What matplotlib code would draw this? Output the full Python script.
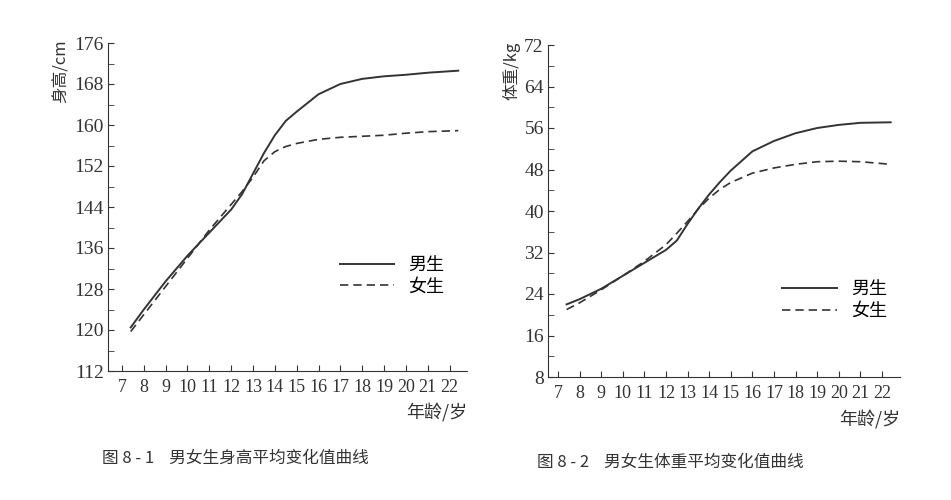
import matplotlib
matplotlib.use("Agg")
import matplotlib.pyplot as plt
from matplotlib.ticker import MultipleLocator

plt.rcParams['font.family'] = ['Liberation Serif', 'Noto Sans CJK SC']

ages = [7.4, 8, 9, 10, 11, 12, 12.5, 13, 13.5, 14, 14.5, 15, 16, 17, 18, 19, 20, 21, 22.4]
h_male = [120.5, 124, 129.5, 134.5, 139, 143.5, 146.5, 150.5, 154.5, 158, 160.8, 162.6, 166, 168, 169, 169.5, 169.8, 170.2, 170.6]
h_female = [119.7, 123, 128.5, 134, 139.5, 144.5, 147, 149.8, 153, 154.8, 155.8, 156.4, 157.2, 157.6, 157.8, 158, 158.4, 158.7, 158.9]
w_male = [22, 23, 25, 27.5, 30, 32.5, 34.3, 37.5, 40.5, 43.2, 45.6, 47.8, 51.5, 53.5, 55, 56, 56.6, 57, 57.1]
w_female = [21, 22.3, 24.8, 27.5, 30.3, 33.5, 35.7, 38, 40.4, 42.5, 44.2, 45.5, 47.3, 48.3, 49, 49.5, 49.6, 49.5, 49]
xticks = list(range(7, 23))

fig = plt.figure(figsize=(9.51, 5.0), dpi=100)
W, H = 951, 500
ink = '#333333'

def panel(rect, xlim, ylim, ystep, male, female, ylabel, ylab_x, leg_pos, caption, cap_pos):
    l, t, r, b = rect
    ax = fig.add_axes([l / W, 1 - b / H, (r - l) / W, (b - t) / H])
    ax.plot(ages, male, color=ink, lw=1.4, label='男生')
    ax.plot(ages, female, color=ink, lw=1.2, ls=(0, (5, 3)), label='女生')
    ax.set_xlim(*xlim)
    ax.set_ylim(*ylim)
    ax.set_xticks(xticks)
    ax.yaxis.set_major_locator(MultipleLocator(ystep))
    ax.yaxis.set_minor_locator(MultipleLocator(ystep / 2))
    for s in ['top', 'right']:
        ax.spines[s].set_visible(False)
    for s in ['left', 'bottom']:
        ax.spines[s].set_color(ink)
    ax.tick_params(axis='x', direction='in', length=4, labelsize=13, colors=ink, pad=6)
    ax.tick_params(axis='y', direction='in', length=4, labelsize=14, colors=ink, pad=3)
    ax.tick_params(axis='y', which='minor', direction='in', length=4, colors=ink)
    ax.text(ylab_x, 1.01, ylabel, rotation=90, transform=ax.transAxes, ha='center', va='top',
            fontsize=12, color=ink, family=['Noto Sans CJK SC', 'Liberation Serif'])
    ax.text(1.0, -0.1, '年龄/岁', transform=ax.transAxes, ha='right', va='top', fontsize=13,
            color=ink, family=['Noto Sans CJK SC', 'Liberation Serif'])
    ax.legend(loc='upper left', bbox_to_anchor=leg_pos, frameon=False, handlelength=3,
              prop={'family': 'Noto Sans CJK SC', 'size': 13}, labelspacing=0.2)
    fig.text(cap_pos[0] / W, 1 - cap_pos[1] / H, caption, fontsize=12, color=ink,
             family=['Noto Sans CJK SC', 'Liberation Serif'], va='center')

panel((108, 43, 467, 371), (6.36, 22.8), (112, 176), 8, h_male, h_female,
      '身高/cm', -0.13, (0.6, 0.4), '图 8 - 1    男女生身高平均变化值曲线', (102, 458))
panel((548, 45, 900, 377), (6.54, 22.83), (8, 72), 8, w_male, w_female,
      '体重/kg', -0.105, (0.62, 0.34), '图 8 - 2    男女生体重平均变化值曲线', (537, 462))

fig.savefig('out.png', dpi=100, facecolor='white')
